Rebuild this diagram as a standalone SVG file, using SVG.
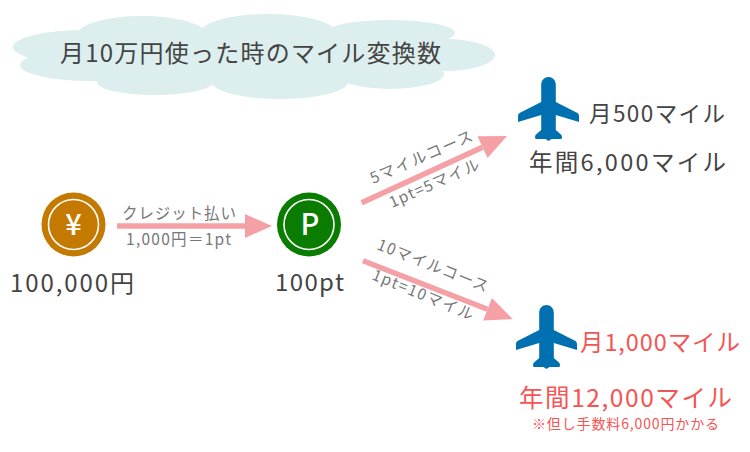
<svg xmlns="http://www.w3.org/2000/svg" width="750" height="452" viewBox="0 0 750 452">
<style>
text{font-family:"Noto Sans CJK JP","Noto Sans",sans-serif;}
.d{fill:#444;}
.g{fill:#777;font-size:15.5px;}
.r{fill:#f55454;}
.cloud ellipse{fill:#dceeed;}
.plane{fill:#0070b0;}
.c{stroke:#f4a0a5;stroke-width:5.5;fill:none;marker-end:url(#h);}
.icon{fill:#fff;font-weight:500;text-anchor:middle;font-size:29px;}
.ring{fill:none;stroke:#fff;stroke-width:1.6;}
</style>
<defs>
<marker id="h" markerUnits="userSpaceOnUse" markerWidth="28" markerHeight="26" refX="0" refY="12" orient="auto"><path d="M0 0L27 12L0 24Z" fill="#f4a0a5"/></marker>
<path id="pl" d="M-7.3 8C-7.3 3-4 0 0 0S7.3 3 7.3 8V25L29 36Q30.5 37 30.5 39V45L7.3 38V53L13 58Q14 60 13 62H3L0 64L-3 62H-13Q-14 60-13 58L-7.3 53V38L-30.5 45V39Q-30.5 37-29 36L-7.3 25Z"/>
</defs>
<rect width="750" height="452" fill="#fff"/>
<g id="title">
<g class="cloud">
<ellipse cx="85" cy="47" rx="72" ry="17"/>
<ellipse cx="142" cy="35" rx="65" ry="19"/>
<ellipse cx="268" cy="33" rx="68" ry="19"/>
<ellipse cx="390" cy="33" rx="65" ry="13"/>
<ellipse cx="445" cy="55" rx="50" ry="16"/>
<ellipse cx="390" cy="74" rx="54" ry="15"/>
<ellipse cx="280" cy="82" rx="68" ry="17"/>
<ellipse cx="155" cy="82" rx="58" ry="13"/>
<ellipse cx="90" cy="65" rx="70" ry="16"/>
<ellipse cx="260" cy="58" rx="200" ry="28"/>
</g>
<text class="d" x="60" y="62" font-size="24" textLength="381" lengthAdjust="spacing">月10万円使った時のマイル変換数</text>
</g>
<g id="connectors">
<line class="c" x1="117" y1="226" x2="245" y2="226"/>
<line class="c" x1="361.7" y1="202.7" x2="482.5" y2="147.2"/>
<line class="c" x1="363" y1="260.7" x2="487.5" y2="309.2"/>
</g>
<g id="labels">
<text class="g" x="122" y="219" textLength="114" lengthAdjust="spacing">クレジット払い</text>
<text class="g" x="126" y="245" textLength="105" lengthAdjust="spacing">1,000円＝1pt</text>
<text class="g" transform="translate(373 184) rotate(-23.5)" textLength="110" lengthAdjust="spacing">5マイルコース</text>
<text class="g" transform="translate(392 208) rotate(-24)" textLength="97" lengthAdjust="spacing">1pt=5マイル</text>
<text class="g" transform="translate(376 249) rotate(21.5)" textLength="118" lengthAdjust="spacing">10マイルコース</text>
<text class="g" transform="translate(371 279) rotate(22.5)" textLength="108" lengthAdjust="spacing">1pt=10マイル</text>
</g>
<g id="yen">
<circle cx="73.5" cy="224.5" r="32" fill="#c47a00"/>
<circle class="ring" cx="73.5" cy="224.5" r="25"/>
<text class="icon" x="73.5" y="235">¥</text>
<text class="d" x="10" y="292" font-size="24" textLength="124" lengthAdjust="spacing">100,000円</text>
</g>
<g id="point">
<circle cx="309" cy="224.5" r="32" fill="#0a7d00"/>
<circle class="ring" cx="309" cy="224.5" r="25"/>
<text class="icon" x="310" y="235">P</text>
<text class="d" x="275" y="291" font-size="24" textLength="69" lengthAdjust="spacing">100pt</text>
</g>
<g id="course5">
<use class="plane" href="#pl" x="548.5" y="77"/>
<text class="d" x="589" y="122" font-size="22.5" textLength="136" lengthAdjust="spacing">月500マイル</text>
<text class="d" x="529" y="171" font-size="23.5" textLength="197" lengthAdjust="spacing">年間6,000マイル</text>
</g>
<g id="course10">
<use class="plane" href="#pl" x="546.5" y="305"/>
<text class="r" x="580" y="351" font-size="23.5" textLength="160" lengthAdjust="spacing">月1,000マイル</text>
<text class="r" x="519" y="407" font-size="24.5" textLength="213" lengthAdjust="spacing">年間12,000マイル</text>
<text class="r" x="532" y="429" font-size="14" textLength="187" lengthAdjust="spacing">※但し手数料6,000円かかる</text>
</g>
</svg>
